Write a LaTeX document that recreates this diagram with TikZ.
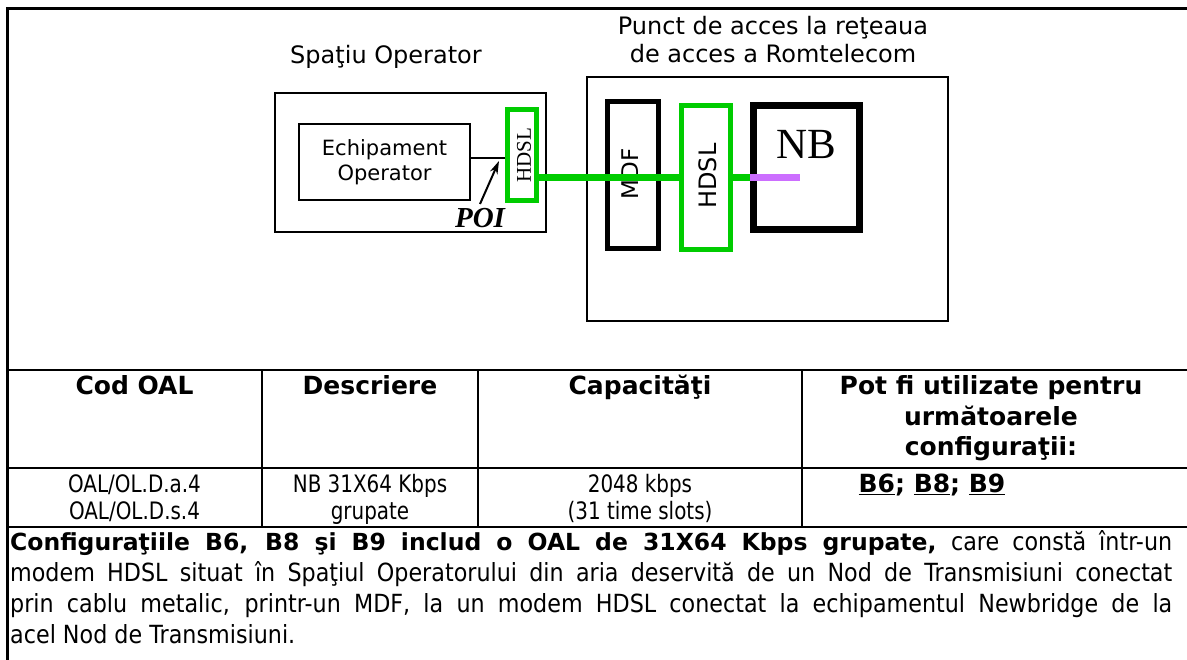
\documentclass[tikz,border=0pt]{standalone}
\usepackage{fontspec}
\setmainfont{DejaVu Sans}
\newfontfamily\tah[FakeStretch=0.83]{DejaVu Sans}
\newfontfamily\tahp[FakeStretch=0.89]{DejaVu Sans}
\newfontfamily\lserif{Liberation Serif}
\usetikzlibrary{arrows.meta}
\definecolor{hgreen}{RGB}{0,204,0}
\definecolor{nbviolet}{RGB}{204,110,255}
\begin{document}
\begin{tikzpicture}[x=1pt,y=-1pt,
  box/.style={draw, line width=2pt, inner sep=0pt},
  gbox/.style={draw=hgreen, line width=5pt, inner sep=0pt},
  bbox/.style={draw=black, line width=5pt, inner sep=0pt},
  gline/.style={draw=hgreen, line width=7pt},
  vline/.style={draw=nbviolet, line width=7pt},
  lbl/.style={font=\fontsize{24}{28}\selectfont, anchor=base, inner sep=0pt},
  hdr/.style={font=\bfseries\fontsize{25}{30}\selectfont, anchor=base, inner sep=0pt},
  cell/.style={font=\tah\fontsize{24}{30}\selectfont, anchor=base, inner sep=0pt},
  rulel/.style={line width=2.5pt}]
\useasboundingbox (0,0) rectangle (1187,660);
\clip (0,0) rectangle (1187,660);
\fill[white] (0,0) rectangle (1187,660);

% frame and table rules
\draw[line width=3pt] (1195,9) -- (7,9) -- (7,670);
\draw[rulel] (7,370) -- (1195,370);
\draw[rulel] (7,468) -- (1195,468);
\draw[rulel] (7,527) -- (1195,527);
\draw[rulel] (262,370) -- (262,527);
\draw[rulel] (478,370) -- (478,527);
\draw[rulel] (802,370) -- (802,527);

% operator side
\node[lbl] (opt) at (386,64) {Spaţiu Operator};
\node[box, minimum width=271pt, minimum height=139pt] (op) at (410.5,162.5) {};
\node[box, minimum width=171pt, minimum height=76pt, align=center,
      font=\fontsize{21}{25}\selectfont] (ech) at (384.5,162) {Echipament\\Operator};
\node[gbox, minimum width=29pt, minimum height=91pt] (ha) at (522,155) {};
\node[rotate=90, font=\lserif\fontsize{21}{21}\selectfont, inner sep=0pt] (hat) at (524,155) {HDSL};

% Romtelecom side
\node[lbl] (pat1) at (773,35) {Punct de acces la reţeaua};
\node[lbl] (pat2) at (773,63) {de acces a Romtelecom};
\node[box, minimum width=361pt, minimum height=244pt] (pa) at (767.5,199) {};
\node[bbox, minimum width=51pt, minimum height=147pt] (mdf) at (633,175) {};
\node[rotate=90, font=\fontsize{23}{23}\selectfont, inner sep=0pt] (mdft) at (630,174) {MDF};
\node[gbox, minimum width=49pt, minimum height=144pt] (hb) at (706,177.5) {};
\node[rotate=90, font=\fontsize{24}{24}\selectfont, inner sep=0pt] (hbt) at (708,176) {HDSL};
\node[draw, line width=7pt, minimum width=106pt, minimum height=124pt, inner sep=0pt] (nb) at (806.5,167.5) {};
\node[font=\lserif\fontsize{43}{43}\selectfont, anchor=base, inner sep=0pt] (nbt) at (806,159) {NB};

% connectors
\draw[line width=2pt] ([yshift=4pt]ech.east) -- ([yshift=4pt]ech.east -| ha.west);
\coordinate (poitail) at (480,204);
\coordinate (poitip) at (499,161);
\draw[line width=2pt, -{Stealth[length=13pt,width=8pt]}] (poitail) -- (poitip);
\node[font=\lserif\bfseries\itshape\fontsize{29}{29}\selectfont, anchor=base, inner sep=0pt] (poi) at (480,228) {POI};
\draw[gline] (ha.east |- hb.west) -- (hb.west);
\draw[gline] (hb.east) -- (hb.east -| nb.west);
\coordinate (vend) at (800,177.5);
\draw[vline] (nb.west |- hb.east) -- (vend);

% table header
\node[hdr] (h1) at (134.5,395) {Cod OAL};
\node[hdr] (h2) at (370,395) {Descriere};
\node[hdr] (h3) at (640,395) {Capacităţi};
\node[hdr] (h4a) at (991,395) {Pot fi utilizate pentru};
\node[hdr] (h4b) at (991,425) {următoarele};
\node[hdr] (h4c) at (991,455) {configuraţii:};

% table data
\node[cell] (d1a) at (134.5,492) {OAL/OL.D.a.4};
\node[cell] (d1b) at (134.5,519) {OAL/OL.D.s.4};
\node[cell] (d2a) at (370,492) {NB 31X64 Kbps};
\node[cell] (d2b) at (370,519) {grupate};
\node[cell] (d3a) at (640,492) {2048 kbps};
\node[cell] (d3b) at (640,519) {(31 time slots)};
\node[hdr] (d4) at (932,492) {\underline{B6}; \underline{B8}; \underline{B9}};

% paragraph
\node[anchor=base west, text width=1162pt, inner sep=0pt, align=justify,
      font=\tahp\fontsize{25}{31}\selectfont] (para) at (10,550)
 {{\rmfamily\bfseries\fontsize{23.5}{31}\selectfont Configuraţiile B6, B8 şi B9 includ o OAL de 31X64 Kbps grupate,} care constă într-un\linebreak
 modem HDSL situat în Spaţiul Operatorului din aria deservită de un Nod de Transmisiuni conectat\linebreak
 prin cablu metalic, printr-un MDF, la un modem HDSL conectat la echipamentul Newbridge de la\linebreak
 acel Nod de Transmisiuni.};
\end{tikzpicture}
\end{document}
